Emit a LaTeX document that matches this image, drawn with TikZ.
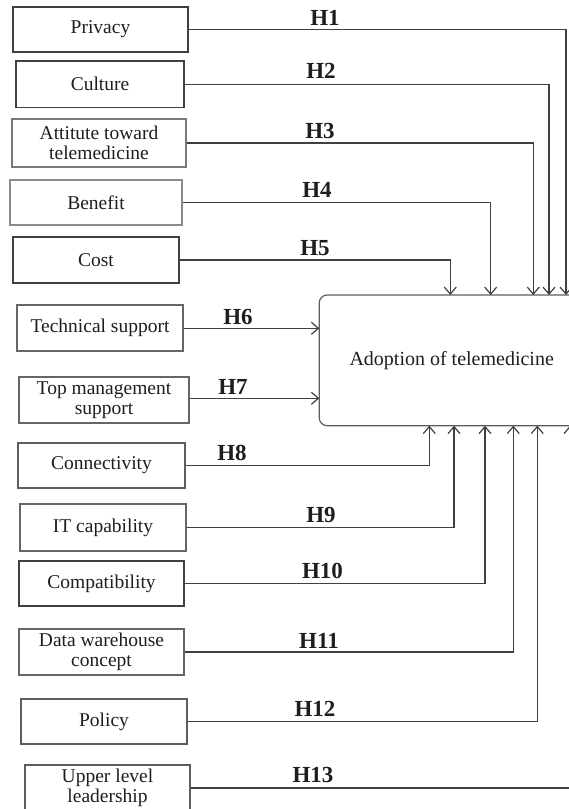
\documentclass[tikz,border=0pt]{standalone}
\usepackage{fontspec}
\setmainfont{Liberation Serif}
\usetikzlibrary{arrows.meta}
\definecolor{ink}{HTML}{1E1E1E}
\definecolor{edge}{HTML}{404040}
\begin{document}
\begin{tikzpicture}[x=1pt,y=-1pt,
  fbox/.style={draw=edge,line width=1.2pt,inner sep=0pt,text=ink,align=center,
    font=\fontsize{19.5}{20.5}\selectfont,minimum height=46pt},
  link/.style={draw=edge,line width=1.2pt,-{Straight Barb[length=7pt,width=12pt,line width=1.2pt]}},
  hlab/.style={anchor=base,text=ink,font=\fontsize{23}{23}\selectfont\bfseries,inner sep=0pt}]
\useasboundingbox (0,0) rectangle (569,809);
\clip (0,0) rectangle (569,809);
% boxes
\node[fbox,minimum width=175pt,minimum height=45pt] (b1) at (100.5,29.5) {Privacy};
\node[fbox,minimum width=168pt,minimum height=46.5pt] (b2) at (100,84.25) {Culture};
\node[fbox,minimum width=174pt,minimum height=48pt,draw=edge!70] (b3) at (99,143) {Attitute toward\\telemedicine};
\node[fbox,minimum width=172pt,minimum height=45pt,draw=edge!60] (b4) at (96,202.5) {Benefit};
\node[fbox,minimum width=166pt] (b5) at (96,260) {Cost};
\node[fbox,minimum width=166pt,draw=edge!80] (b6) at (100,328) {Technical support};
\node[fbox,minimum width=170pt,draw=edge!80] (b7) at (104,400) {Top management\\support};
\node[fbox,minimum width=167pt,minimum height=45pt,draw=edge!85] (b8) at (101.5,465.5) {Connectivity};
\node[fbox,minimum width=166pt,minimum height=47pt,draw=edge!80] (b9) at (103,527.5) {IT capability};
\node[fbox,minimum width=165pt,minimum height=45pt] (b10) at (101.5,583.5) {Compatibility};
\node[fbox,minimum width=165pt,draw=edge!80] (b11) at (101.5,652) {Data warehouse\\concept};
\node[fbox,minimum width=166pt,minimum height=45pt,draw=edge!85] (b12) at (104,721.5) {Policy};
\node[fbox,minimum width=165pt,draw=edge!85] (b13) at (107.5,788) {Upper level\\leadership};
\node[draw=edge!85,line width=1.2pt,rounded corners=8pt,minimum width=265pt,minimum height=130.7pt,
  inner sep=0pt,text=ink,font=\fontsize{20}{22}\selectfont] (ad) at (451.7,360.3) {Adoption of telemedicine};
% target coordinates
\coordinate (t1) at (566,295);
\coordinate (t2) at (549,295);
\coordinate (t3) at (533.3,295);
\coordinate (t4) at (490.7,295);
\coordinate (t5) at (450.3,295);
\coordinate (t6) at (319.3,328.3);
\coordinate (t7) at (319.3,398.3);
\coordinate (t8) at (429.3,425.7);
\coordinate (t9) at (454,425.7);
\coordinate (t10) at (485,425.7);
\coordinate (t11) at (513.3,425.7);
\coordinate (t12) at (537.3,425.7);
\coordinate (t13) at (570,425.7);
% connectors
\draw[link] (b1.east) -| (t1);
\draw[link] (b2.east) -| (t2);
\draw[link] (b3.east) -| (t3);
\draw[link] (b4.east) -| (t4);
\draw[link] (b5.east) -| (t5);
\draw[link] (b6.east |- t6) -- (t6);
\draw[link] (b7.east |- t7) -- (t7);
\draw[link] (b8.east) -| (t8);
\draw[link] (b9.east) -| (t9);
\draw[link] (b10.east) -| (t10);
\draw[link] (b11.east) -| (t11);
\draw[link] (b12.east) -| (t12);
\draw[link] (b13.east) -| (t13);
% labels
\node[hlab] (h1) at (325,25) {H1};
\node[hlab] (h2) at (321,78) {H2};
\node[hlab] (h3) at (320,138.5) {H3};
\node[hlab] (h4) at (317,197.5) {H4};
\node[hlab] (h5) at (315,255.5) {H5};
\node[hlab] (h6) at (238,324.5) {H6};
\node[hlab] (h7) at (233,394.5) {H7};
\node[hlab] (h8) at (232,460) {H8};
\node[hlab] (h9) at (321,522) {H9};
\node[hlab] (h10) at (322.5,578) {H10};
\node[hlab] (h11) at (319,648) {H11};
\node[hlab] (h12) at (315,716) {H12};
\node[hlab] (h13) at (313,782.5) {H13};
\end{tikzpicture}
\end{document}
